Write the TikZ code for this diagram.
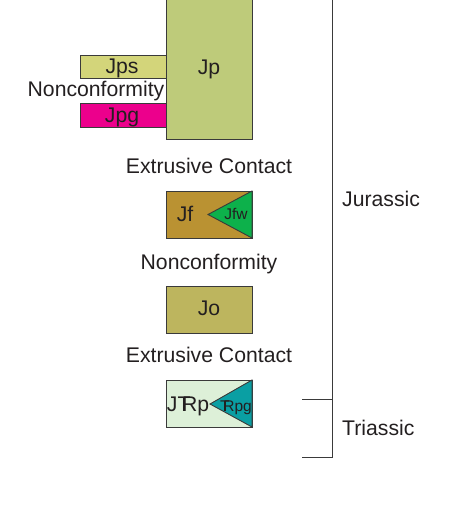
\documentclass[tikz,border=0pt]{standalone}
\usepackage{fontspec}
\setmainfont{Liberation Sans}
\definecolor{txt}{HTML}{231F20}
\definecolor{edge}{HTML}{3A3A3A}
\definecolor{cJp}{HTML}{BECB7A}
\definecolor{cJps}{HTML}{D3D57A}
\definecolor{cJpg}{HTML}{EC008C}
\definecolor{cJf}{HTML}{BA9232}
\definecolor{cJfw}{HTML}{0DB14B}
\definecolor{cJo}{HTML}{BDB55E}
\definecolor{cJTRp}{HTML}{DDF0D8}
\definecolor{cTRpg}{HTML}{0A9FA3}
\newcommand{\Trs}{T\kern-0.4em R}
\begin{document}
\begin{tikzpicture}[x=1pt,y=-1pt,
  unitbox/.style={draw=edge,line width=0.9pt,inner sep=0pt,outer sep=0pt,anchor=north west},
  big/.style={text=txt,font=\fontsize{21.2}{23}\selectfont,inner sep=0pt,anchor=base,yshift=-7.6pt},
  small/.style={text=txt,font=\fontsize{15.5}{17}\selectfont,inner sep=0pt,anchor=base,yshift=-5.6pt},
  tri/.style={draw=edge,line width=0.9pt},
  brk/.style={draw=edge,line width=1pt}]
\useasboundingbox (0,0) rectangle (456,517);
% Jp column
\node[unitbox,fill=cJp,minimum width=86pt,minimum height=141pt] (jp) at (166,-2) {};
\node[unitbox,fill=cJps,minimum width=86pt,minimum height=23pt] (jps) at (80,55) {};
\node[unitbox,fill=cJpg,minimum width=86pt,minimum height=24pt] (jpg) at (80,103) {};
\node[big] (ljp) at (209,67) {Jp};
\node[big] (ljps) at (122,66) {Jps};
\node[big] (ljpg) at (122,115) {Jpg};
\node[big] (nc1) at (96,89) {Nonconformity};
% Extrusive contact 1
\node[big] (ec1) at (209,166) {Extrusive Contact};
% Jf
\node[unitbox,fill=cJf,minimum width=86pt,minimum height=47pt] (jf) at (166,191) {};
\coordinate (jftip) at (208,214.5);
\draw[tri,fill=cJfw] (jf.north east) -- (jftip) -- (jf.south east) -- cycle;
\node[big] (ljf) at (185,214) {Jf};
\node[small] (ljfw) at (236,214) {Jfw};
% Nonconformity 2
\node[big] (nc2) at (209,262) {Nonconformity};
% Jo
\node[unitbox,fill=cJo,minimum width=86pt,minimum height=47pt] (jo) at (166,286) {};
\node[big] (ljo) at (209,308) {Jo};
% Extrusive contact 2
\node[big] (ec2) at (209,355) {Extrusive Contact};
% JTRp
\node[unitbox,fill=cJTRp,minimum width=86pt,minimum height=47pt] (jtrp) at (166,380) {};
\coordinate (trtip) at (210,404);
\draw[tri,fill=cTRpg] (jtrp.north east) -- (trtip) -- (jtrp.south east) -- cycle;
\node[big] (ljtrp) at (188,404) {J\Trs p};
\node[small] (ltrpg) at (236,406) {\Trs pg};
% bracket
\coordinate (btop) at (332,-2);
\coordinate (bmid) at (332,399);
\coordinate (bbot) at (332,457);
\coordinate (bmidl) at (302,399);
\coordinate (bbotl) at (302,457);
\draw[brk] (btop) -- (bbot) -- (bbotl);
\draw[brk] (bmidl) -- (bmid);
\node[big,anchor=base west] (jur) at (342,199) {Jurassic};
\node[big,anchor=base west] (tri) at (342,428) {Triassic};
\end{tikzpicture}
\end{document}
